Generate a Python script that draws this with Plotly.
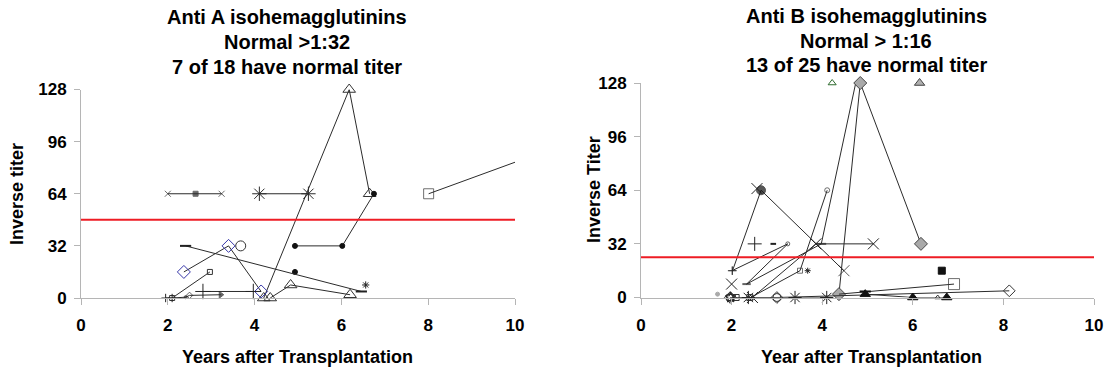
import plotly.graph_objects as go

# ---------------- data: Anti A (left panel) ----------------
A_TICKS_X = [0, 2, 4, 6, 8, 10]
A_TICKS_Y = [0, 32, 64, 96, 128]
A_NORMAL_LINE = 48

A_CROSS_X = [2.0, 2.64, 3.24];   A_CROSS_Y = [64, 64, 64]
A_AST_X = [4.11, 5.24];          A_AST_Y = [64, 64]
A_TRI1_X = [4.21, 6.18, 6.65];   A_TRI1_Y = [0, 128, 64]
A_TRI2_X = [4.36, 4.83, 6.2];    A_TRI2_Y = [0, 8, 2]
A_DOT_X = [4.93, 6.02, 6.75];    A_DOT_Y = [32, 32, 64]
A_DOT1_X = [4.93];               A_DOT1_Y = [16]
A_BIGSQ_X = [8.01, 10.17];       A_BIGSQ_Y = [64, 85]
A_DIA_X = [2.37, 3.4, 4.15];     A_DIA_Y = [16, 32, 4]
A_CIRC_X = [3.68];               A_CIRC_Y = [32]
A_DASH_X = [2.41, 6.46];         A_DASH_Y = [32, 4]
A_SMX_X = [6.56];                A_SMX_Y = [8]
A_SMSQ_X = [2.1, 2.97];          A_SMSQ_Y = [0, 16]
A_PLUS_X = [2.81, 3.97];         A_PLUS_Y = [4, 4]
A_SMPLUS_X = [1.95, 2.1];        A_SMPLUS_Y = [0, 0]
A_TINY_X = [2.1, 2.41, 2.5, 3.22]; A_TINY_Y = [0, 0.5, 1.6, 2]

# ---------------- data: Anti B (right panel) ----------------
B_NORMAL_LINE = 24

B_CIRC_X = [2.02, 2.65, 4.48];   B_CIRC_Y = [16, 64, 16]
B_XLONE_X = [2.56, 2.0];         B_XLONE_Y = [65, 8]
B_PLUSL_X = [2.01, 3.24];        B_PLUSL_Y = [16, 32]
B_DASHL_X = [3.24, 2.33, 3.98, 4.74]; B_DASHL_Y = [32, 8, 32, 128]
B_XLINE_X = [2.46, 3.86, 5.13];  B_XLINE_Y = [0, 32, 32]
B_SQL_X = [4.11, 3.51, 2.42];    B_SQL_Y = [64, 16, 0]
B_SMX_X = [3.68];                B_SMX_Y = [16]
B_PLUSBIG_X = [2.51];            B_PLUSBIG_Y = [32]
B_DASH1_X = [2.92];              B_DASH1_Y = [32]
B_GDIA_X = [4.37, 4.84, 6.18];   B_GDIA_Y = [2, 128, 32]
B_GTRI_X = [6.15];               B_GTRI_Y = [128]
B_GRTRI_X = [4.22];              B_GRTRI_Y = [128]
B_TICK_X = [6.56];               B_TICK_Y = [130]
B_BSQ_X = [6.64];                B_BSQ_Y = [16]
B_BIGSQ_X = [4.37, 6.91];        B_BIGSQ_Y = [2, 8]
B_ODIA_X = [1.97, 3.0, 8.13];    B_ODIA_Y = [0, 0, 4]
B_BTRI_X = [4.95, 6.0, 6.75];    B_BTRI_Y = [2, 0, 0]
B_SMTRI_X = [6.55];              B_SMTRI_Y = [0]
B_TBAR_X = [4.95];               B_TBAR_Y = [3.6]
B_AST_X = [2.37, 3.4, 4.1];      B_AST_Y = [0, 0, 0]
B_BSQS_X = [1.96, 2.1, 2.4];     B_BSQS_Y = [0, 0, 0]
B_BCIRC_X = [1.97, 3.0];         B_BCIRC_Y = [0, 0]
B_STAR_X = [1.98];               B_STAR_Y = [0]
B_GDOT_X = [1.69];               B_GDOT_Y = [2]

# ---------------- figure ----------------
W, H = 1113, 374
fig = go.Figure()
LC = "#2b2b2b"


def add(x, y, panel, symbol, size, color=LC, lines=True, outline=None, olw=1):
    xa, ya = ("x", "y") if panel == 1 else ("x2", "y2")
    fig.add_trace(go.Scatter(
        x=x, y=y, xaxis=xa, yaxis=ya,
        mode="lines+markers" if lines else "markers",
        line=dict(color=LC, width=1),
        marker=dict(symbol=symbol, size=size, color=color,
                    line=dict(color=outline if outline else color, width=olw)),
        cliponaxis=False, hoverinfo="skip", showlegend=False))


# left panel
add(A_CROSS_X, A_CROSS_Y, 1, ["x-thin-open", "square", "x-thin-open"], [6, 5, 6])
add(A_AST_X, A_AST_Y, 1, "asterisk-open", 12)
add(A_TRI1_X, A_TRI1_Y, 1, "triangle-up-open", 11, "#333")
add(A_TRI2_X, A_TRI2_Y, 1, "triangle-up-open", 11, "#333")
add(A_DOT_X, A_DOT_Y, 1, "circle", 5, "#111")
add(A_DOT1_X, A_DOT1_Y, 1, "circle", 5, "#111", lines=False)
add(A_BIGSQ_X, A_BIGSQ_Y, 1, "square-open", [10, 0], "#333")
add(A_DIA_X, A_DIA_Y, 1, "diamond-open", 10, "#3535a8")
add(A_CIRC_X, A_CIRC_Y, 1, "circle-open", 10, "#333", lines=False)
add(A_DASH_X, A_DASH_Y, 1, "line-ew-open", 8, "#222", olw=2)
add(A_SMX_X, A_SMX_Y, 1, "asterisk-open", 6, "#222", lines=False)
add(A_SMSQ_X, A_SMSQ_Y, 1, "square-open", 5, "#333")
add(A_PLUS_X, A_PLUS_Y, 1, "cross-thin-open", 11, "#222")
add(A_SMPLUS_X, A_SMPLUS_Y, 1, "cross-thin-open", 6, "#222")
add(A_TINY_X, A_TINY_Y, 1, ["circle", "circle", "diamond-open", "triangle-right"], [0, 3, 5, 6], "#222")

# right panel
add(B_CIRC_X, B_CIRC_Y, 2, ["cross-thin-open", "circle", "x-thin-open"], [6, 9, 11], "#111")
add(B_XLONE_X, B_XLONE_Y, 2, "x-thin-open", 11, "#222", lines=False)
add(B_PLUSL_X, B_PLUSL_Y, 2, ["cross-thin-open", "circle-open"], [6, 4], "#222")
add(B_DASHL_X, B_DASHL_Y, 2, ["circle-open", "line-ew-open", "line-ew-open", "line-ew-open"], [0, 6, 7, 0], "#222", olw=2)
add(B_XLINE_X, B_XLINE_Y, 2, "x-thin-open", 11, "#222")
add(B_SQL_X, B_SQL_Y, 2, ["circle-open", "square-open", "square-open"], [5, 5, 5], "#333")
add(B_SMX_X, B_SMX_Y, 2, "asterisk-open", 5, "#222", lines=False)
add(B_PLUSBIG_X, B_PLUSBIG_Y, 2, "cross-thin-open", 10, "#222", lines=False)
add(B_DASH1_X, B_DASH1_Y, 2, "line-ew-open", 4, "#222", lines=False, olw=2)
add(B_GDIA_X, B_GDIA_Y, 2, "diamond", 10, "#a9a9a9", outline="#444")
add(B_GTRI_X, B_GTRI_Y, 2, "triangle-up", 9, "#b0b0b0", lines=False, outline="#444")
add(B_GRTRI_X, B_GRTRI_Y, 2, "triangle-up-open", 7, "#2e6b2e", lines=False)
add(B_TICK_X, B_TICK_Y, 2, "line-ns-open", 3, "#777", lines=False)
add(B_BSQ_X, B_BSQ_Y, 2, "square", 7, "#111", lines=False)
add(B_BIGSQ_X, B_BIGSQ_Y, 2, "square-open", [0, 11], "#333")
add(B_ODIA_X, B_ODIA_Y, 2, "diamond-open", 9, "#333")
add(B_BTRI_X, B_BTRI_Y, 2, "triangle-up", 9, "#111")
add(B_SMTRI_X, B_SMTRI_Y, 2, "triangle-up-open", 5, "#333", lines=False)
add(B_TBAR_X, B_TBAR_Y, 2, "line-ew-open", 8, "#111", lines=False, olw=2)
add(B_AST_X, B_AST_Y, 2, "asterisk-open", 11, "#222")
add(B_BSQS_X, B_BSQS_Y, 2, "square-open", 6, "#333")
add(B_BCIRC_X, B_BCIRC_Y, 2, "circle-open", 8, "#333", lines=False)
add(B_STAR_X, B_STAR_Y, 2, "star-open", 8, "#222", lines=False)
add(B_GDOT_X, B_GDOT_Y, 2, "circle", 4, "#aaaaaa", lines=False)

# normal-threshold lines
fig.add_shape(type="line", xref="x", yref="y", x0=0, x1=10, y0=A_NORMAL_LINE, y1=A_NORMAL_LINE,
              line=dict(color="#ee1c24", width=2))
fig.add_shape(type="line", xref="x2", yref="y2", x0=0, x1=10, y0=B_NORMAL_LINE, y1=B_NORMAL_LINE,
              line=dict(color="#ee1c24", width=2))

FONT = "Liberation Sans, Arial, sans-serif"
axcommon = dict(showline=True, linecolor="#b5b5b5", linewidth=1, ticks="outside", ticklen=6,
                tickcolor="#b5b5b5", showgrid=False, zeroline=False, automargin=False,
                tickfont=dict(family=FONT, size=17, color="black", weight="bold"))

fig.update_layout(
    width=W, height=H, margin=dict(l=0, r=0, t=0, b=0, autoexpand=False),
    plot_bgcolor="white", paper_bgcolor="white", showlegend=False,
    xaxis=dict(domain=[81 / W, 515 / W], range=[0, 10], tickvals=A_TICKS_X, anchor="y",
               ticklabelstandoff=6, **axcommon),
    yaxis=dict(domain=[1 - 298 / H, 1 - 89.5 / H], range=[0, 128], tickvals=A_TICKS_Y, anchor="x",
               ticklabelstandoff=4, **axcommon),
    xaxis2=dict(domain=[641 / W, 1094 / W], range=[0, 10], tickvals=A_TICKS_X, anchor="y2",
                ticklabelstandoff=6, **axcommon),
    yaxis2=dict(domain=[1 - 297.5 / H, 1 - 83 / H], range=[0, 128], tickvals=A_TICKS_Y, anchor="x2",
                ticklabelstandoff=4, **axcommon),
)


def txt(s, px, py, size, angle=0):
    fig.add_annotation(text="<b>%s</b>" % s, x=px / W, y=1 - py / H, xref="paper", yref="paper",
                       xanchor="center", yanchor="middle", showarrow=False, textangle=angle,
                       font=dict(family=FONT, size=size, color="black"))


txt("Anti A isohemagglutinins", 287, 17, 20)
txt("Normal &gt;1:32", 287, 42, 20)
txt("7 of 18 have normal titer", 287, 67, 20)
txt("Anti B isohemagglutinins", 866, 16, 20)
txt("Normal &gt; 1:16", 866, 41, 20)
txt("13 of 25 have normal titer", 866, 65, 20)
txt("Years after Transplantation", 297, 357, 18)
txt("Year after Transplantation", 871, 357, 18)
txt("Inverse titer", 17, 194, 18, -90)
txt("Inverse Titer", 594, 190, 18, -90)

fig.write_html("out.html", config={"displayModeBar": False},
               post_script="document.body.style.margin='0';document.body.style.overflow='hidden';")
